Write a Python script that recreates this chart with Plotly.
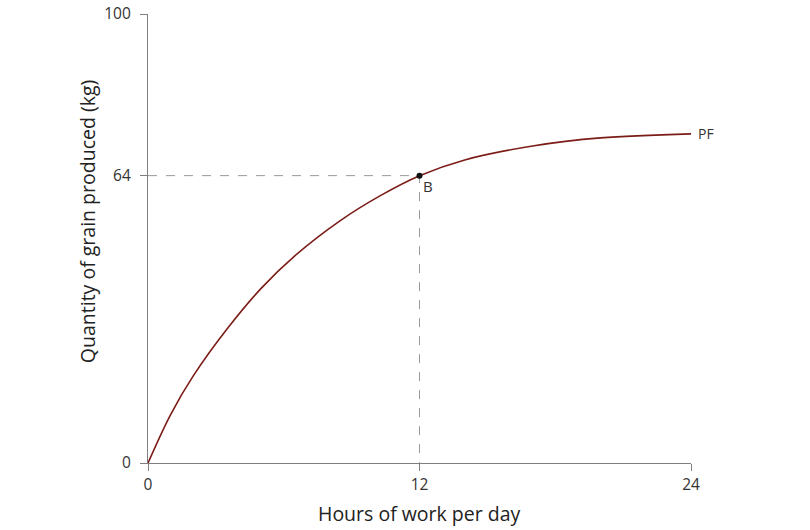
import plotly.graph_objects as go

# Data
hours = [0, 1, 2, 3.5, 5, 6.5, 8.5, 10.25, 12, 14, 17, 20, 24]
grain = [0, 10.8, 19.4, 29.9, 38.9, 46.2, 54.0, 59.5, 64, 67.5, 70.6, 72.4, 73.3]
point_b = (12, 64)
x_ticks = [0, 12, 24]
y_ticks = [0, 64, 100]

FONT = "Open Sans"
AXIS_COL = "#7f7f7f"

fig = go.Figure()

# dashed guides to point B
fig.add_trace(go.Scatter(x=[0, point_b[0], point_b[0]], y=[point_b[1], point_b[1], 0],
                         mode="lines", line=dict(color="#999999", width=1, dash="dash"),
                         hoverinfo="skip", showlegend=False))

# production function
fig.add_trace(go.Scatter(x=hours, y=grain, mode="lines",
                         line=dict(color="#7b1c17", width=1.6, shape="spline", smoothing=1.0),
                         showlegend=False))

# point B
fig.add_trace(go.Scatter(x=[point_b[0]], y=[point_b[1]], mode="markers",
                         marker=dict(color="#111111", size=6), showlegend=False))

fig.add_annotation(x=point_b[0], y=point_b[1], text="B", showarrow=False,
                   xanchor="left", yanchor="top", xshift=1, yshift=2,
                   font=dict(family=FONT, size=15, color="#333333"))
fig.add_annotation(x=hours[-1], y=grain[-1], text="PF", showarrow=False,
                   xanchor="left", yanchor="middle", xshift=5,
                   font=dict(family=FONT, size=14, color="#333333"))

# axis titles as annotations
fig.add_annotation(xref="paper", yref="paper", x=0.5, y=-0.078, text="Hours of work per day",
                   showarrow=False, xanchor="center", yanchor="top",
                   font=dict(family=FONT, size=19.5, color="#222222"))
fig.add_annotation(xref="paper", yref="paper", x=-0.110, y=0.537,
                   text="Quantity of grain produced (kg)", textangle=-90,
                   showarrow=False, xanchor="center", yanchor="middle",
                   font=dict(family=FONT, size=19.5, color="#222222"))

fig.update_layout(
    width=810, height=530,
    margin=dict(l=148, r=119, t=14, b=67, autoexpand=False),
    plot_bgcolor="white", paper_bgcolor="white",
    xaxis=dict(range=[0, 24], tickvals=x_ticks, ticktext=[str(v) for v in x_ticks],
               automargin=False,
               showgrid=False, zeroline=False, showline=True, linecolor=AXIS_COL, linewidth=1.3,
               ticks="outside", ticklen=7, tickcolor=AXIS_COL, tickwidth=1,
               tickfont=dict(family=FONT, size=15.5, color="#333333")),
    yaxis=dict(range=[0, 100], tickvals=y_ticks, ticktext=[str(v) for v in y_ticks],
               automargin=False, ticklabeloverflow="allow",
               showgrid=False, zeroline=False, showline=True, linecolor=AXIS_COL, linewidth=1.3,
               ticks="outside", ticklen=7, tickcolor=AXIS_COL, tickwidth=1,
               ticklabelstandoff=6,
               tickfont=dict(family=FONT, size=15.5, color="#333333")),
)

# remove the default 8px page margin so the figure sits at the window's top-left corner
fig.write_html("out.html", config={"displayModeBar": False},
               post_script="document.body.style.margin='0';")
